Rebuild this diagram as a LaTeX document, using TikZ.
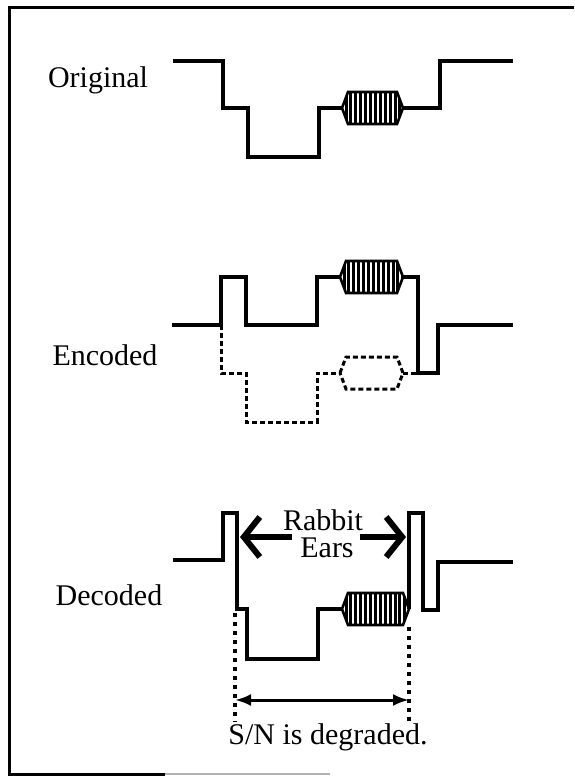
\documentclass[tikz,border=0pt]{standalone}
\usepackage{fontspec}
\setmainfont{Liberation Serif}
\usetikzlibrary{arrows.meta}

\begin{document}
\begin{tikzpicture}[x=1pt, y=-1pt,
  wave/.style={line width=3.3pt, line join=miter},
  ghost/.style={line width=3pt, dash pattern=on 5pt off 3pt},
  marker/.style={line width=3.2pt, dash pattern=on 4pt off 5pt},
  label/.style={font=\fontsize{30}{34}\selectfont, inner sep=0pt}]

% Define packet outline (left tip x, middle y, width)
\def\packetpath#1#2#3{(#1,#2) -- (#1+6,#2-16) -- (#1+#3-6,#2-16) -- (#1+#3,#2) -- (#1+#3-6,#2+16) -- (#1+6,#2+16) -- cycle}

% Define striped packet
\newcommand{\packet}[3]{%
  \begin{scope}
    \clip \packetpath{#1}{#2}{#3};
    \fill[white] \packetpath{#1}{#2}{#3};
    \foreach \k in {0,...,12} \draw[line width=3pt] (#1+4+\k*4.9,#2-18) -- ++(0,36);
  \end{scope}
  \draw[line width=2.6pt] \packetpath{#1}{#2}{#3};
}

% Fix page size
\useasboundingbox (0,0) rectangle (574,776);

% Draw frame (scan leaves only the left, top and part of the bottom)
\draw[line width=3pt] (574,8) -- (9,8) -- (9,774) -- (165,774);
\draw[line width=2pt, gray!60] (165,774) -- (330,774);

% Draw original signal
\node[label] (original) at (98,80) {Original};
\draw[wave] (173,61) -- (223,61) -- (223,108) -- (248,108) -- (248,157) -- (319,157) -- (319,108) -- (342,108);
\packet{342}{108}{61}
\draw[wave] (403,108) -- (440,108) -- (440,61) -- (513,61);

% Draw encoded signal
\node[label] (encoded) at (105,355) {Encoded};
\draw[wave] (172,325) -- (221,325) -- (221,277) -- (246,277) -- (246,325) -- (317,325) -- (317,277) -- (340,277);
\packet{340}{277}{63}
\draw[wave] (403,277) -- (418,277) -- (418,373) -- (438,373) -- (438,325) -- (513,325);

% Draw inverted copy as dashed line
\draw[ghost] (221,325) -- (221,373) -- (246,373) -- (246,422) -- (317,422) -- (317,373) -- (340,373);
\draw[ghost] \packetpath{340}{373}{63};
\draw[ghost] (403,373) -- (418,373);

% Draw decoded signal
\node[label] (decoded) at (109,595) {Decoded};
\draw[wave] (173,560) -- (223,560) -- (223,513) -- (237,513) -- (237,609) -- (247,609) -- (247,659) -- (318,659) -- (318,609) -- (342,609);
\packet{342}{609}{67}
\draw[wave] (409,609) -- (409,513) -- (423,513) -- (423,610) -- (438,610) -- (438,562) -- (513,562);

% Draw rabbit ears label with arrows
\node[label] (rabbit) at (323,520) {Rabbit};
\node[label] (ears) at (327,548) {Ears};
\coordinate (earL) at (240,537);
\coordinate (earR) at (406,537);
\draw[line width=6pt, -{Straight Barb[length=16pt,width=40pt]}] (ears.west |- earL) ++(-8,0) -- (earL);
\draw[line width=6pt, -{Straight Barb[length=16pt,width=40pt]}] (ears.east |- earR) ++(6,0) -- (earR);

% Draw degraded span
\coordinate (spanL) at (235,700);
\coordinate (spanR) at (409,700);
\draw[marker] (235,613) -- (235,722);
\draw[marker] (409,627) -- (409,722);
\draw[line width=3pt, {Latex[length=16pt,width=12pt]}-{Latex[length=16pt,width=12pt]}] (spanL) -- (spanR);
\node[label] (snr) at (328,737) {S/N is degraded.};

\end{tikzpicture}
\end{document}
